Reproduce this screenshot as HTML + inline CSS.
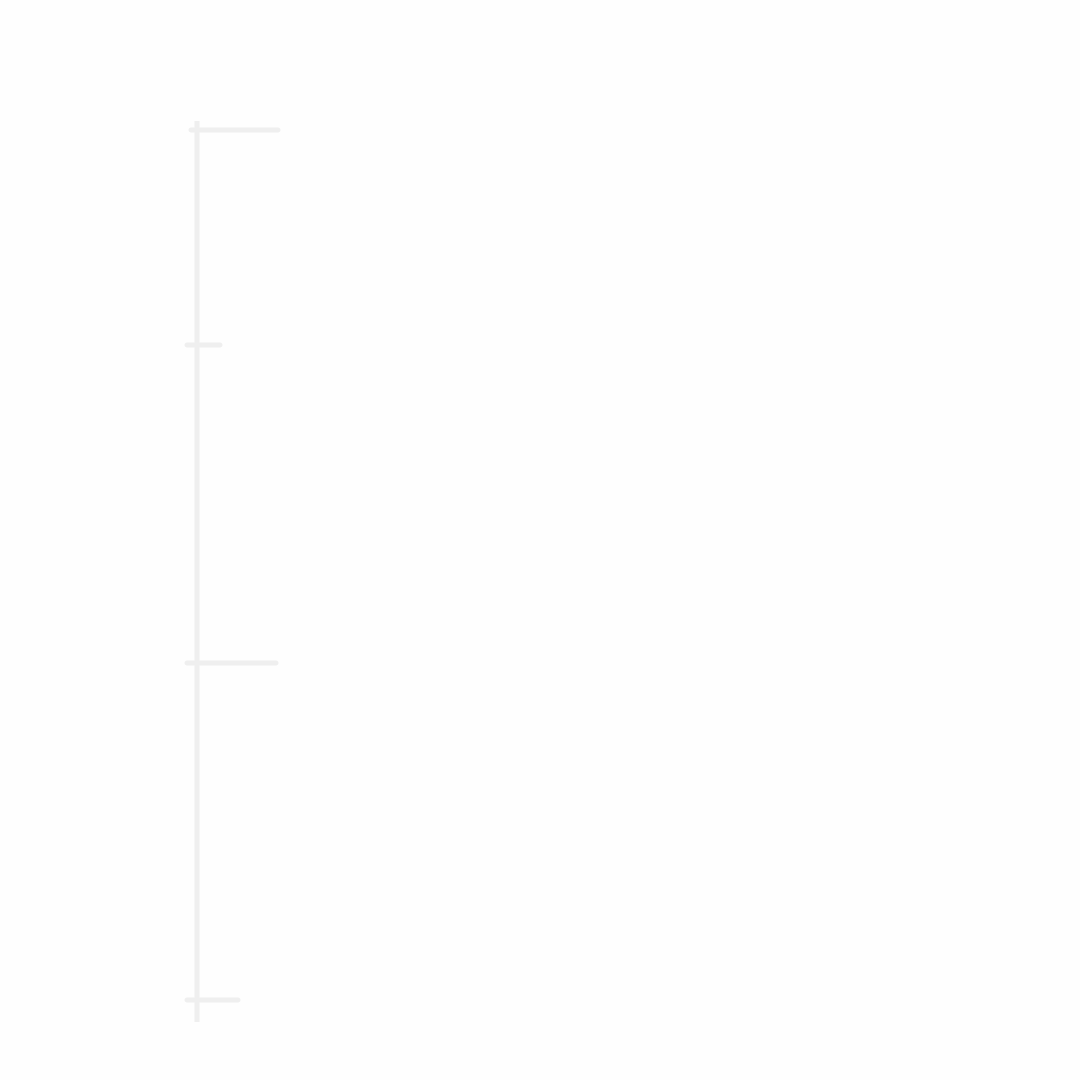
<!DOCTYPE html>
<html><head><style>html,body{margin:0;padding:0;background:#fefefe;}svg{display:block}</style></head>
<body>
<svg width="1080" height="1080" viewBox="0 0 1080 1080" xmlns="http://www.w3.org/2000/svg">
<rect width="1080" height="1080" fill="#fefefe"/>
<g stroke="#efefef" stroke-width="5" stroke-linecap="round" fill="none">
<line x1="197" y1="121" x2="197" y2="1022" stroke-linecap="butt"/>
<line x1="191" y1="130" x2="278" y2="130"/>
<line x1="187" y1="345" x2="220" y2="345"/>
<line x1="187" y1="663" x2="276" y2="663"/>
<line x1="187" y1="1000" x2="238" y2="1000"/>
</g>
</svg>
</body></html>
